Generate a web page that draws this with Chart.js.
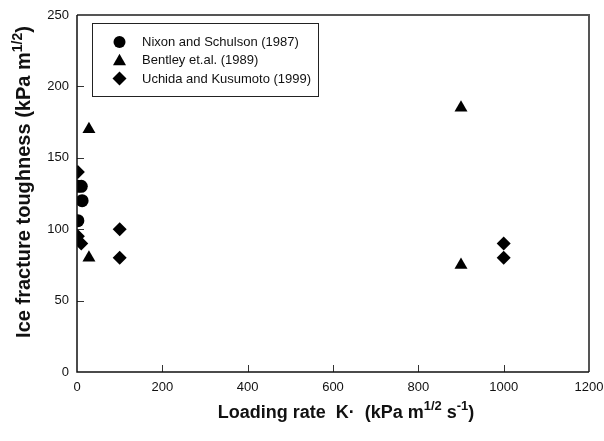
<!DOCTYPE html>
<html>
<head>
<meta charset="utf-8">
<script src="https://cdn.jsdelivr.net/npm/chart.js@4.4.1/dist/chart.umd.min.js"></script>
<style>
  html, body { margin: 0; padding: 0; background: #fff; }
  #wrap { width: 604px; height: 441px; }
</style>
</head>
<body>
<div id="wrap"><canvas id="toughChart" width="604" height="441"></canvas></div>
<script>
// loading rate (x) and toughness (y) for each study
const nixonRate = [2, 10, 12, 2];
const nixonTough = [130, 130, 120, 106];
const bentleyRate = [28, 28, 900, 900];
const bentleyTough = [170, 80, 185, 75];
const uchidaRate = [2, 2, 10, 100, 100, 1000, 1000];
const uchidaTough = [140, 95, 90, 100, 80, 90, 80];

const seriesNames = ['Nixon and Schulson (1987)', 'Bentley et.al. (1989)', 'Uchida and Kusumoto (1999)'];
const xTicks = [0, 200, 400, 600, 800, 1000, 1200];
const yTicks = [0, 50, 100, 150, 200, 250];

function toPoints(xs, ys) {
  return xs.map((x, i) => ({ x: x, y: ys[i] }));
}

const FONT = 'Arial, "Liberation Sans", Helvetica, sans-serif';

// draws frame, inward ticks, boxed legend and axis titles with superscripts
const decorPlugin = {
  id: 'decor',
  afterDraw(chart) {
    const ctx = chart.ctx;
    const area = chart.chartArea;
    const xs = chart.scales.x, ys = chart.scales.y;
    ctx.save();

    // inward tick marks
    ctx.strokeStyle = '#333';
    ctx.lineWidth = 1;
    xTicks.forEach(v => {
      if (v === xTicks[0] || v === xTicks[xTicks.length - 1]) return;
      const px = Math.round(xs.getPixelForValue(v)) + 0.5;
      ctx.beginPath();
      ctx.moveTo(px, area.bottom);
      ctx.lineTo(px, area.bottom - 7);
      ctx.stroke();
    });
    yTicks.forEach(v => {
      if (v === yTicks[0] || v === yTicks[yTicks.length - 1]) return;
      const py = Math.round(ys.getPixelForValue(v)) + 0.5;
      ctx.beginPath();
      ctx.moveTo(area.left, py);
      ctx.lineTo(area.left + 7, py);
      ctx.stroke();
    });

    // frame: top and right grey, left and bottom black
    ctx.strokeStyle = '#555';
    ctx.lineWidth = 2;
    ctx.beginPath();
    ctx.moveTo(area.left, area.top);
    ctx.lineTo(area.right, area.top);
    ctx.lineTo(area.right, area.bottom);
    ctx.stroke();
    ctx.strokeStyle = '#111';
    ctx.lineWidth = 1.5;
    ctx.beginPath();
    ctx.moveTo(area.left, area.top);
    ctx.lineTo(area.left, area.bottom);
    ctx.lineTo(area.right, area.bottom);
    ctx.stroke();

    // legend box
    const lx = 92, ly = 23, lw = 226, lh = 73;
    ctx.strokeStyle = '#222';
    ctx.lineWidth = 1;
    ctx.strokeRect(lx + 0.5, ly + 0.5, lw, lh);
    ctx.font = '13px ' + FONT;
    ctx.fillStyle = '#111';
    ctx.textBaseline = 'middle';
    ctx.textAlign = 'left';
    chart.data.datasets.forEach((ds, i) => {
      const cy = 42 + i * 18.3;
      const cx = 119.5;
      ctx.fillStyle = '#000';
      ctx.beginPath();
      if (ds.pointStyle === 'circle') {
        ctx.arc(cx, cy, 6, 0, Math.PI * 2);
      } else if (ds.pointStyle === 'triangle') {
        ctx.moveTo(cx, cy - 6.5);
        ctx.lineTo(cx + 6.5, cy + 5);
        ctx.lineTo(cx - 6.5, cy + 5);
        ctx.closePath();
      } else {
        ctx.moveTo(cx, cy - 7);
        ctx.lineTo(cx + 7, cy);
        ctx.lineTo(cx, cy + 7);
        ctx.lineTo(cx - 7, cy);
        ctx.closePath();
      }
      ctx.fill();
      ctx.fillStyle = '#111';
      ctx.fillText(ds.label, 142, cy + 0.5);
    });

    // axis titles with superscripts
    function drawRich(parts, startX, baseY, size) {
      let x = startX;
      parts.forEach(p => {
        ctx.font = 'bold ' + (p.sup ? Math.round(size * 0.7) : size) + 'px ' + FONT;
        ctx.fillText(p.t, x, baseY - (p.sup ? size * 0.42 : 0));
        x += ctx.measureText(p.t).width;
      });
    }
    function richWidth(parts, size) {
      let w = 0;
      parts.forEach(p => {
        ctx.font = 'bold ' + (p.sup ? Math.round(size * 0.7) : size) + 'px ' + FONT;
        w += ctx.measureText(p.t).width;
      });
      return w;
    }
    ctx.fillStyle = '#111';
    ctx.textBaseline = 'alphabetic';
    ctx.textAlign = 'left';
    const xTitle = [
      { t: 'Loading rate  K\u00B7  (kPa m' }, { t: '1/2', sup: true },
      { t: ' s' }, { t: '-1', sup: true }, { t: ')' }
    ];
    const xw = richWidth(xTitle, 18);
    drawRich(xTitle, 346 - xw / 2, 418, 18);

    const yTitle = [
      { t: 'Ice fracture toughness (kPa m' }, { t: '1/2', sup: true }, { t: ')' }
    ];
    const yw = richWidth(yTitle, 20);
    ctx.translate(30, 182);
    ctx.rotate(-Math.PI / 2);
    drawRich(yTitle, -yw / 2, 0, 20);
    ctx.restore();
  }
};

const ctx = document.getElementById('toughChart').getContext('2d');

new Chart(ctx, {
  type: 'scatter',
  data: {
    datasets: [{
      label: seriesNames[0],
      data: toPoints(nixonRate, nixonTough),
      pointStyle: 'circle',
      pointRadius: 6.5,
      backgroundColor: '#000',
      borderColor: '#000',
      borderWidth: 0
    }, {
      label: seriesNames[1],
      data: toPoints(bentleyRate, bentleyTough),
      pointStyle: 'triangle',
      pointRadius: 7.5,
      backgroundColor: '#000',
      borderColor: '#000',
      borderWidth: 0
    }, {
      label: seriesNames[2],
      data: toPoints(uchidaRate, uchidaTough),
      pointStyle: 'rectRot',
      pointRadius: 7,
      backgroundColor: '#000',
      borderColor: '#000',
      borderWidth: 0
    }]
  },
  options: {
    responsive: false,
    animation: false,
    layout: { padding: { left: 0, top: 15, right: 15, bottom: 0 } },
    plugins: {
      legend: { display: false },
      tooltip: { enabled: false }
    },
    scales: {
      x: {
        type: 'linear',
        min: 0,
        max: 1200,
        afterFit: scale => {
          scale.height = 69;
          scale.paddingLeft = 0;
          scale.paddingRight = 0;
        },
        afterBuildTicks: scale => { scale.ticks = xTicks.map(v => ({ value: v })); },
        grid: { display: false },
        border: { display: false },
        ticks: {
          padding: 0,
          color: '#111',
          font: { family: FONT, size: 13 },
          maxRotation: 0,
          callback: v => String(v)
        }
      },
      y: {
        type: 'linear',
        min: 0,
        max: 250,
        afterFit: scale => {
          scale.width = 77;
          scale.paddingTop = 0;
          scale.paddingBottom = 0;
        },
        afterBuildTicks: scale => { scale.ticks = yTicks.map(v => ({ value: v })); },
        grid: { display: false },
        border: { display: false },
        ticks: {
          padding: 0,
          color: '#111',
          font: { family: FONT, size: 13 },
          callback: v => String(v)
        }
      }
    }
  },
  plugins: [decorPlugin]
});
</script>
</body>
</html>
